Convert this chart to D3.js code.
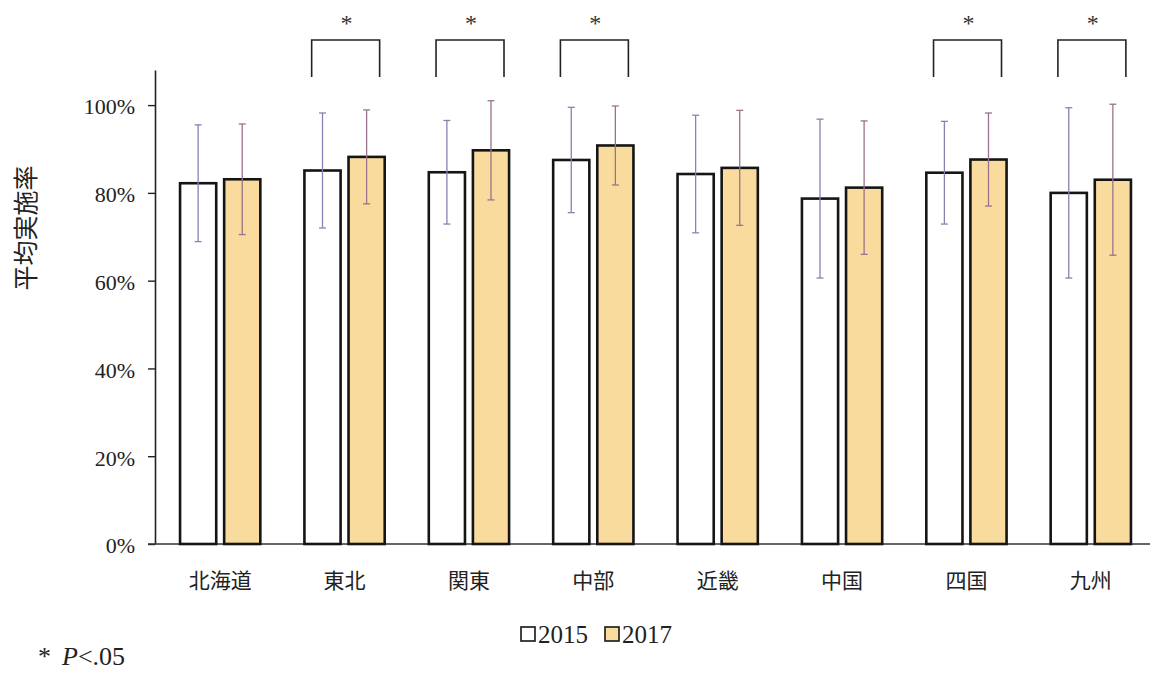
<!DOCTYPE html>
<html>
<head>
<meta charset="utf-8">
<script src="https://cdn.jsdelivr.net/npm/d3@7"></script>
<style>
  body { margin: 0; background: #fff; }
  svg { display: block; }
  .num { font-family: "Liberation Serif", "DejaVu Serif", serif; }
  .jp { font-family: "Noto Sans CJK JP", sans-serif; }
</style>
</head>
<body>
<script>
// ------------------- data ------------------------
var regions = ["北海道", "東北", "関東", "中部", "近畿", "中国", "四国", "九州"];
var years = ["2015", "2017"];
var mean2015 = [82.2, 85.1, 84.7, 87.5, 84.3, 78.7, 84.6, 80.0];
var mean2017 = [83.1, 88.2, 89.7, 90.8, 85.7, 81.2, 87.6, 83.0];
var sd2015 = [13.3, 13.1, 11.8, 12.0, 13.4, 18.1, 11.7, 19.4];
var sd2017 = [12.6, 10.7, 11.3, 9.0, 13.1, 15.2, 10.6, 17.2];
var significant = [false, true, true, true, false, false, true, true];
var yTicks = [0, 20, 40, 60, 80, 100];

var width = 1152, height = 675;
var fillColor = { "2015": "#ffffff", "2017": "#f9dc9d" };
var errColor = { "2015": "#8a80b2", "2017": "#9a728c" };

var svg = d3.select("body").append("svg")
    .attr("width", width).attr("height", height);

// ------------------- scales ------------------------
var x0 = d3.scaleBand()
    .domain(regions)
    .range([158, 1153]);

var x1 = d3.scaleBand()
    .domain(years)
    .range([0, x0.bandwidth()])
    .paddingInner(0.18)
    .paddingOuter(0.5);

var y = d3.scaleLinear()
    .domain([0, 108])
    .range([544, 70]);

// table built from the arrays
var rows = regions.map(function(r, i) {
  return {
    region: r,
    sig: significant[i],
    vals: [
      { year: "2015", mean: mean2015[i], sd: sd2015[i] },
      { year: "2017", mean: mean2017[i], sd: sd2017[i] }
    ]
  };
});

// ------------------- axes ------------------------
var yAxis = svg.append("g")
    .attr("transform", "translate(155,0)")
    .call(d3.axisLeft(y).tickValues(yTicks).tickSize(7).tickSizeOuter(0)
      .tickFormat(function(d) { return d + "%"; }));
yAxis.select(".domain").attr("stroke", "#222").attr("stroke-width", 1.6);
yAxis.selectAll(".tick line").attr("stroke", "#222").attr("stroke-width", 1.4);
yAxis.selectAll(".tick text")
    .attr("class", "num")
    .attr("x", -20)
    .attr("dy", "0.4em")
    .style("font-size", "22px")
    .attr("fill", "#222");

svg.append("line")
    .attr("x1", 148).attr("x2", 1150)
    .attr("y1", y(0)).attr("y2", y(0))
    .attr("stroke", "#333").attr("stroke-width", 1.6);

svg.append("text")
    .attr("class", "jp")
    .attr("transform", "translate(35,228) rotate(-90)")
    .attr("text-anchor", "middle")
    .style("font-size", "25px")
    .attr("fill", "#222")
    .text("平均実施率");

svg.selectAll(".xlab")
    .data(regions)
  .enter().append("text")
    .attr("class", "jp xlab")
    .attr("x", function(d) { return x0(d) + x0.bandwidth() / 2; })
    .attr("y", 588)
    .attr("text-anchor", "middle")
    .style("font-size", "21px")
    .attr("fill", "#222")
    .text(function(d) { return d; });

// ------------------- bars ------------------------
var group = svg.selectAll(".region")
    .data(rows)
  .enter().append("g")
    .attr("class", "region")
    .attr("transform", function(d) { return "translate(" + x0(d.region) + ",0)"; });

group.selectAll("rect")
    .data(function(d) { return d.vals; })
  .enter().append("rect")
    .attr("x", function(d) { return x1(d.year); })
    .attr("y", function(d) { return y(d.mean); })
    .attr("width", x1.bandwidth())
    .attr("height", function(d) { return y(0) - y(d.mean); })
    .attr("fill", function(d) { return fillColor[d.year]; })
    .attr("stroke", "#151515")
    .attr("stroke-width", 2.6);

// error bars
var err = group.selectAll(".err")
    .data(function(d) { return d.vals; })
  .enter().append("g")
    .attr("class", "err")
    .attr("stroke", function(d) { return errColor[d.year]; })
    .attr("stroke-width", 1.3);

err.append("line")
    .attr("x1", function(d) { return x1(d.year) + x1.bandwidth() / 2; })
    .attr("x2", function(d) { return x1(d.year) + x1.bandwidth() / 2; })
    .attr("y1", function(d) { return y(d.mean + d.sd); })
    .attr("y2", function(d) { return y(d.mean - d.sd); });

[1, -1].forEach(function(s) {
  err.append("line")
    .attr("x1", function(d) { return x1(d.year) + x1.bandwidth() / 2 - 3.5; })
    .attr("x2", function(d) { return x1(d.year) + x1.bandwidth() / 2 + 3.5; })
    .attr("y1", function(d) { return y(d.mean + s * d.sd); })
    .attr("y2", function(d) { return y(d.mean + s * d.sd); });
});

// significance brackets
var sigGroup = group.filter(function(d) { return d.sig; });

sigGroup.append("path")
    .attr("d", function() {
      var xa = x1("2015") + x1.bandwidth() * 0.2;
      var xb = x1("2017") + x1.bandwidth() * 0.86;
      return "M" + xa + ",77V40H" + xb + "V77";
    })
    .attr("fill", "none")
    .attr("stroke", "#222")
    .attr("stroke-width", 1.6);

sigGroup.append("text")
    .attr("class", "num")
    .attr("x", function() {
      return (x1("2015") + x1("2017") + x1.bandwidth()) / 2 + 2;
    })
    .attr("y", 31)
    .attr("text-anchor", "middle")
    .style("font-size", "24px")
    .attr("fill", "#333")
    .text("*");

// ------------------- legend ------------------------
var legend = svg.append("g")
    .attr("transform", "translate(520,626)");

var leg = legend.selectAll("g")
    .data(years)
  .enter().append("g")
    .attr("transform", function(d, i) { return "translate(" + (i * 84) + ",0)"; });

leg.append("rect")
    .attr("x", 1).attr("y", 1)
    .attr("width", 14).attr("height", 14)
    .attr("fill", function(d) { return fillColor[d]; })
    .attr("stroke", "#222")
    .attr("stroke-width", 1.7);

leg.append("text")
    .attr("class", "num")
    .attr("x", 18).attr("y", 17)
    .style("font-size", "25px")
    .attr("fill", "#222")
    .text(function(d) { return d; });

// footnote
var note = svg.append("text")
    .attr("class", "num")
    .attr("y", 665)
    .style("font-size", "26px")
    .attr("fill", "#222");
note.append("tspan").attr("x", 38).text("*");
note.append("tspan").attr("x", 62).style("font-style", "italic").text("P");
note.append("tspan").text("<.05");
</script>
</body>
</html>
